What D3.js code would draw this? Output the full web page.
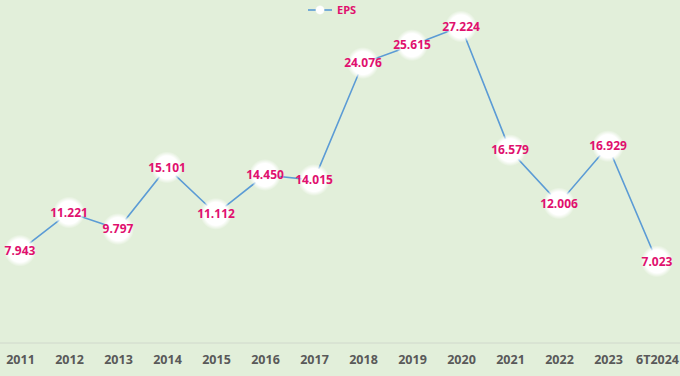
<!DOCTYPE html>
<html>
<head>
<meta charset="utf-8">
<script src="https://cdn.jsdelivr.net/npm/d3@7"></script>
<style>
  body { margin: 0; background: #e2efda; }
  text { font-family: "Open Sans", "Liberation Sans", sans-serif; font-weight: bold; }
</style>
</head>
<body>
<div id="chart"></div>
<script>
const width = 680, height = 376;

const years = ["2011", "2012", "2013", "2014", "2015", "2016", "2017", "2018", "2019", "2020", "2021", "2022", "2023", "6T2024"];
const eps = [7.943, 11.221, 9.797, 15.101, 11.112, 14.450, 14.015, 24.076, 25.615, 27.224, 16.579, 12.006, 16.929, 7.023];

const svg = d3.select("#chart")
    .append("svg")
    .attr("width", width)
    .attr("height", height);

svg.append("rect")
    .attr("width", width)
    .attr("height", height)
    .attr("fill", "#e2efda");

// x: point scale across categories
const x = d3.scalePoint()
    .domain(years)
    .range([20, 657]);

// y: linear, zero sits on the axis line
const y = d3.scaleLinear()
    .domain([0, 29.5])
    .range([343, 0]);

// axis line + labels
const xAxis = svg.append("g")
    .attr("transform", `translate(0,${y(0)})`)
    .call(d3.axisBottom(x).tickSize(0).tickPadding(12));
xAxis.select(".domain")
    .attr("stroke", "#d0d8cc")
    .attr("d", `M0,0H${width}`);
xAxis.selectAll("text")
    .attr("fill", "#595959")
    .style("font-size", "12.5px")
    .style("font-family", "\"Open Sans\", sans-serif")
    .style("font-weight", "bold");

// soft white markers
const defs = svg.append("defs");
const grad = defs.append("radialGradient").attr("id", "glow");
grad.append("stop").attr("offset", "0.72").attr("stop-color", "#fff").attr("stop-opacity", 1);
grad.append("stop").attr("offset", "1").attr("stop-color", "#fff").attr("stop-opacity", 0);

const line = d3.line()
    .x((d, i) => x(years[i]))
    .y(d => y(d));

svg.append("path")
    .datum(eps)
    .attr("fill", "none")
    .attr("stroke", "#5b9bd5")
    .attr("stroke-width", 1.6)
    .attr("d", line);

svg.selectAll("circle.pt")
    .data(eps)
    .join("circle")
    .attr("class", "pt")
    .attr("cx", (d, i) => x(years[i]))
    .attr("cy", d => y(d))
    .attr("r", 16)
    .attr("fill", "url(#glow)");

svg.selectAll("text.lbl")
    .data(eps)
    .join("text")
    .attr("class", "lbl")
    .attr("x", (d, i) => x(years[i]))
    .attr("y", d => y(d))
    .attr("dy", "0.35em")
    .attr("text-anchor", "middle")
    .attr("fill", "#e0106e")
    .style("font-size", "12px")
    .text(d => d.toFixed(3));

// legend
const lg = svg.append("g").attr("transform", "translate(308,10)");
lg.append("line")
    .attr("x1", 0).attr("x2", 24)
    .attr("stroke", "#5b9bd5")
    .attr("stroke-width", 1.6);
lg.append("circle")
    .attr("cx", 12).attr("r", 5)
    .attr("fill", "url(#glow)");
lg.append("text")
    .attr("x", 29)
    .attr("dy", "0.35em")
    .attr("fill", "#e0106e")
    .style("font-size", "11px")
    .text("EPS");
</script>
</body>
</html>
